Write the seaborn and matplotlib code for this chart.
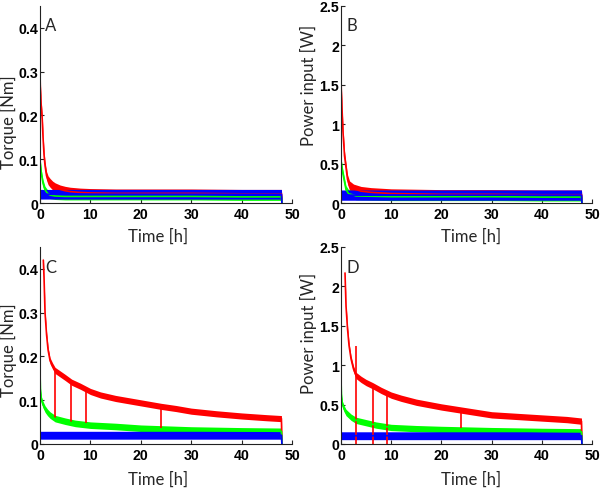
import matplotlib
matplotlib.use("Agg")
import matplotlib.pyplot as plt
import seaborn as sns
import pandas as pd
import numpy as np

# ---------------- data ----------------
# Panel A: torque [Nm]
a_red_t = [0, 0.05, 0.2, 0.45, 0.6, 0.8, 1.0, 1.3, 1.6, 2.0, 2.5, 3, 4, 5, 6, 8, 10, 15, 20, 30, 40, 47.9, 48]
a_red_y = [0.30, 0.27, 0.23, 0.19, 0.15, 0.11, 0.085, 0.062, 0.052, 0.046, 0.04, 0.036, 0.031, 0.028, 0.026, 0.024, 0.023, 0.022, 0.022, 0.022, 0.021, 0.021, 0.0]
a_grn_t = [0, 0.1, 0.3, 0.6, 1.0, 1.5, 2.0, 3, 5, 10, 20, 30, 40, 47.9, 48]
a_grn_y = [0.10, 0.085, 0.065, 0.045, 0.03, 0.022, 0.018, 0.016, 0.015, 0.015, 0.015, 0.015, 0.014, 0.014, 0.0]
a_blu_t = [0, 5, 10, 20, 30, 40, 47.9, 48]
a_blu_y = [0.02, 0.02, 0.02, 0.02, 0.02, 0.02, 0.02, 0.0]

# Panel B: power input [W]
b_red_t = [0, 0.05, 0.2, 0.4, 0.7, 1.0, 1.3, 1.7, 2.5, 4, 6, 10, 20, 30, 40, 47.9, 48]
b_red_y = [1.65, 1.45, 1.2, 0.9, 0.6, 0.45, 0.3, 0.22, 0.18, 0.15, 0.135, 0.12, 0.11, 0.11, 0.105, 0.105, 0.0]
b_grn_t = [0, 0.1, 0.3, 0.6, 1.0, 1.5, 3, 10, 20, 30, 40, 47.9, 48]
b_grn_y = [0.55, 0.48, 0.40, 0.30, 0.17, 0.12, 0.09, 0.08, 0.08, 0.08, 0.075, 0.075, 0.0]
b_blu_t = [0, 10, 20, 30, 40, 47.9, 48]
b_blu_y = [0.10, 0.10, 0.10, 0.10, 0.10, 0.10, 0.0]

# Panel C: torque [Nm]
c_red_t = [0.66, 0.8, 1.0, 1.3, 1.6, 2.0, 2.5, 3, 4, 5, 6.3, 8, 10, 12, 15, 18, 20, 24, 27, 30, 35, 40, 45, 47.9, 48]
c_red_y = [0.42, 0.38, 0.30, 0.25, 0.215, 0.19, 0.178, 0.168, 0.16, 0.152, 0.141, 0.132, 0.12, 0.112, 0.104, 0.098, 0.094, 0.086, 0.081, 0.075, 0.069, 0.064, 0.06, 0.058, 0.0]
c_red_dip_t = [3.0, 6.2, 9.05, 24.0]
c_red_dip_low = [0.06, 0.049, 0.047, 0.036]
c_grn_t = [0, 0.1, 0.3, 0.6, 1.0, 1.5, 2.0, 3, 4, 5, 7, 10, 15, 20, 25, 30, 40, 47.9, 48]
c_grn_y = [0.165, 0.12, 0.10, 0.09, 0.08, 0.072, 0.066, 0.058, 0.055, 0.052, 0.047, 0.043, 0.04, 0.036, 0.034, 0.032, 0.030, 0.029, 0.0]
c_blu_t = [0, 10, 20, 30, 40, 47.9, 48]
c_blu_y = [0.02, 0.02, 0.02, 0.02, 0.02, 0.02, 0.0]

# Panel D: power input [W]
d_red_t = [0.8, 1.0, 1.3, 1.6, 2.0, 2.5, 3, 4, 5, 6.3, 8, 10, 12, 15, 20, 25, 30, 35, 40, 45, 47.9, 48]
d_red_y = [2.17, 1.75, 1.46, 1.25, 1.08, 0.95, 0.87, 0.82, 0.78, 0.74, 0.68, 0.62, 0.58, 0.53, 0.47, 0.42, 0.37, 0.35, 0.33, 0.31, 0.29, 0.0]
d_red_dip_t = [3.0, 6.3, 9.1, 24.0]
d_red_dip_low = [0.0, 0.0, 0.0, 0.2]
d_red_dip_high = [1.24, 0.74, 0.64, 0.44]
d_grn_t = [0, 0.1, 0.3, 0.6, 1.0, 2.0, 3, 5, 7, 10, 15, 20, 30, 40, 47.9, 48]
d_grn_y = [0.83, 0.6, 0.5, 0.45, 0.40, 0.34, 0.30, 0.27, 0.24, 0.21, 0.195, 0.185, 0.17, 0.16, 0.155, 0.0]
d_blu_t = [0, 10, 20, 30, 40, 47.9, 48]
d_blu_y = [0.105, 0.105, 0.105, 0.105, 0.105, 0.105, 0.0]

# noise half-widths of each trace, per panel
hw_a = {"red": 0.010, "green": 0.008, "blue": 0.011}
hw_b = {"red": 0.06, "green": 0.05, "blue": 0.065}
hw_c = {"red": 0.007, "green": 0.0075, "blue": 0.009}
hw_d = {"red": 0.04, "green": 0.04, "blue": 0.05}

time_ticks = [0, 10, 20, 30, 40, 50]
torque_ticks = [0, 0.1, 0.2, 0.3, 0.4]
torque_labels = ["0", "0.1", "0.2", "0.3", "0.4"]
power_ticks = [0, 0.5, 1, 1.5, 2, 2.5]
power_labels = ["0", "0.5", "1", "1.5", "2", "2.5"]

# ---------------- drawing ----------------
sns.set_style("ticks")
plt.rcParams["font.family"] = ["Lato", "DejaVu Sans"]

COL = {"red": "#ff0000", "green": "#00ff00", "blue": "#0000ff"}

fig = plt.figure(figsize=(6.0, 4.89), dpi=100)
W, H = 600.0, 489.0


def make_ax(left, top, right, bottom):
    return fig.add_axes([left / W, 1 - bottom / H, (right - left) / W, (bottom - top) / H])


def draw_trace(ax, t, y, color, hw):
    t = np.asarray(t, float)
    y = np.asarray(y, float)
    ax.fill_between(t, y - hw, y + hw, color=COL[color], linewidth=0)
    df = pd.DataFrame({"t": t, "y": y})
    sns.lineplot(data=df, x="t", y="y", ax=ax, color=COL[color], linewidth=1.2,
                 estimator=None, sort=False)


def style_ax(ax, ylim, yticks, ylabels, ylabel, letter, xlab_xy, ylab_xy, letter_y):
    ax.set_xlim(0, 50)
    ax.set_ylim(*ylim)
    ax.set_xticks(time_ticks)
    ax.set_xticklabels([str(v) for v in time_ticks])
    ax.set_yticks(yticks)
    ax.set_yticklabels(ylabels)
    ax.tick_params(direction="in", length=3, width=0.8, colors="#222222")
    ax.tick_params(axis="y", pad=1.5)
    ax.tick_params(axis="x", pad=3)
    for lab in ax.get_xticklabels() + ax.get_yticklabels():
        lab.set_fontfamily("Liberation Sans")
        lab.set_fontweight("bold")
        lab.set_fontsize(10.2)
        lab.set_color("black")
    sns.despine(ax=ax)
    for s in ("left", "bottom"):
        ax.spines[s].set_color("#222222")
        ax.spines[s].set_linewidth(0.8)
    ax.set_xlabel("Time [h]", fontsize=12)
    ax.set_ylabel(ylabel, fontsize=12)
    ax.xaxis.set_label_coords(*xlab_xy)
    ax.yaxis.set_label_coords(*ylab_xy)
    ax.xaxis.label.set_va("center")
    ax.yaxis.label.set_va("center")
    ax.text(0.02, letter_y, letter, transform=ax.transAxes, fontsize=12, va="center", ha="left")
    ax.set_facecolor("white")


axA = make_ax(40, 7, 292, 204)
axB = make_ax(341, 7, 592, 204)
axC = make_ax(40, 248, 292, 445)
axD = make_ax(341, 248, 592, 445)

for ax, sets, hw in [
    (axA, [(a_red_t, a_red_y, "red"), (a_grn_t, a_grn_y, "green"), (a_blu_t, a_blu_y, "blue")], hw_a),
    (axB, [(b_red_t, b_red_y, "red"), (b_grn_t, b_grn_y, "green"), (b_blu_t, b_blu_y, "blue")], hw_b),
    (axC, [(c_red_t, c_red_y, "red"), (c_grn_t, c_grn_y, "green"), (c_blu_t, c_blu_y, "blue")], hw_c),
    (axD, [(d_red_t, d_red_y, "red"), (d_grn_t, d_grn_y, "green"), (d_blu_t, d_blu_y, "blue")], hw_d),
]:
    for t, y, c in sets:
        draw_trace(ax, t, y, c, hw[c])

# red dips
c_dip_high = np.interp(c_red_dip_t, c_red_t, c_red_y)
axC.vlines(c_red_dip_t, c_red_dip_low, c_dip_high, colors=COL["red"], linewidth=1.2, zorder=1.5)
axD.vlines(d_red_dip_t, d_red_dip_low, d_red_dip_high, colors=COL["red"], linewidth=1.2, zorder=1.5)

style_ax(axA, (0, 0.45), torque_ticks, torque_labels, "Torque [Nm]", "A",
         (0.468, -0.167), (-0.124, 0.416), 0.904)
style_ax(axB, (0, 2.5), power_ticks, power_labels, "Power input [W]", "B",
         (0.518, -0.167), (-0.130, 0.60), 0.904)
style_ax(axC, (0, 0.45), torque_ticks, torque_labels, "Torque [Nm]", "C",
         (0.468, -0.178), (-0.124, 0.482), 0.90)
style_ax(axD, (0, 2.5), power_ticks, power_labels, "Power input [W]", "D",
         (0.518, -0.178), (-0.130, 0.566), 0.90)

fig.savefig("out.png", dpi=100, facecolor="white")
